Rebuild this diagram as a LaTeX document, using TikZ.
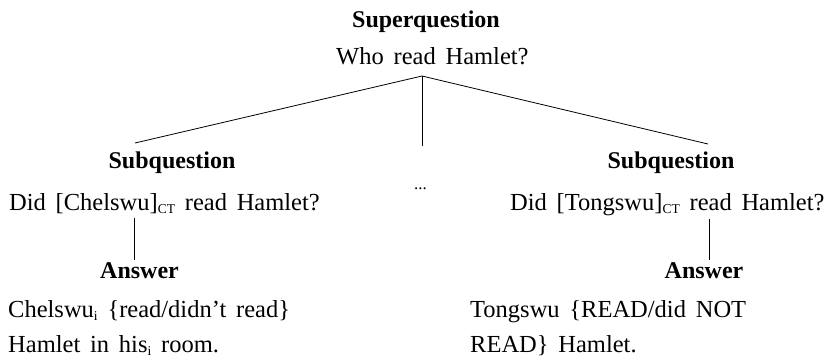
\documentclass[tikz,border=0pt]{standalone}
\usepackage{fontspec}
\setmainfont{Liberation Serif}
% small lowered label used for CT and index subscripts
\newcommand\sbs[1]{\raisebox{-0.35ex}{\fontsize{13.5}{14}\selectfont #1}}
% wider interword space for the example sentences
\newcommand\widespace{\spaceskip=0.4em plus 0.1em\relax}
\begin{document}
\begin{tikzpicture}[x=1pt,y=-1pt,
  txt/.style={inner sep=0pt,anchor=base west,
    font=\fontsize{24.5}{28}\selectfont,execute at begin node=\widespace},
  head/.style={inner sep=0pt,anchor=base,font=\fontsize{24}{28}\selectfont\bfseries},
  branch/.style={line width=0.8pt}]
\useasboundingbox (0,0) rectangle (836,360);
% top question
\node[head] (sup) at (426,27) {Superquestion};
\node[txt] (supq) at (336,64) {Who read Hamlet?};
\coordinate (apex) at (422,76);
\coordinate (lend) at (135,143);
\coordinate (rend) at (708,144);
\coordinate (mend) at (422,146);
\draw[branch] (lend) -- (apex) -- (rend);
\draw[branch] (apex) -- (mend);
% subquestions
\node[head] (subl) at (172,168) {Subquestion};
\node[head] (subr) at (671,168) {Subquestion};
\node[txt] (ql) at (9,210) {Did [Chelswu]\sbs{CT} read Hamlet?};
\node[txt] (qr) at (510,210) {Did [Tongswu]\sbs{CT} read Hamlet?};
\node[inner sep=0pt,anchor=base west,font=\fontsize{17}{20}\selectfont] (dots) at (414,189) {...};
% answers
\coordinate (la) at (134,218);
\coordinate (lb) at (134,260);
\coordinate (ra) at (709,219);
\coordinate (rb) at (709,260);
\draw[branch] (la) -- (lb);
\draw[branch] (ra) -- (rb);
\node[head] (ansl) at (139.5,278) {Answer};
\node[head] (ansr) at (704,278) {Answer};
\node[txt] (al1) at (8,317) {Chelswu\sbs{i} \{read/didn’t read\}};
\node[txt] (al2) at (8,352) {Hamlet in his\sbs{i} room.};
\node[txt] (ar1) at (470,317) {Tongswu \{READ/did NOT};
\node[txt] (ar2) at (470,352) {READ\} Hamlet.};
\end{tikzpicture}
\end{document}
